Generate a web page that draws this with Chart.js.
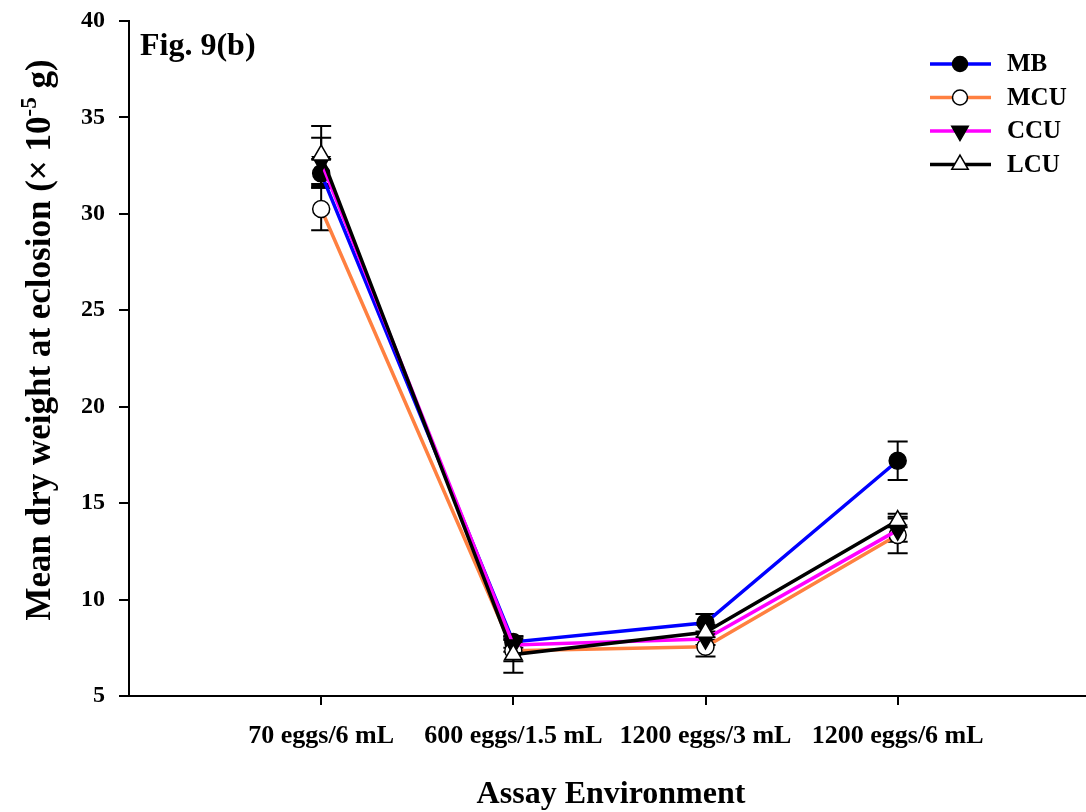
<!DOCTYPE html>
<html>
<head>
<meta charset="utf-8">
<script src="https://cdn.jsdelivr.net/npm/chart.js@4.4.0/dist/chart.umd.min.js"></script>
<style>
  html, body { margin: 0; padding: 0; background: #fff; }
  #wrap { width: 1086px; height: 812px; }
</style>
</head>
<body>
<div id="wrap"><canvas id="c" width="1086" height="812"></canvas></div>
<script>
// Assay environments (x positions 1..4)
const categories = ['70 eggs/6 mL', '600 eggs/1.5 mL', '1200 eggs/3 mL', '1200 eggs/6 mL'];

// Mean dry weight at eclosion (x 10^-5 g) and error half-widths per population
const mbValues  = [32.1, 7.8, 8.8, 17.2];
const mbErr     = [0.75, 0.3, 0.45, 1.0];
const mcuValues = [30.25, 7.35, 7.55, 13.35];
const mcuErr    = [1.1, 0.55, 0.5, 0.95];
const ccuValues = [32.7, 7.65, 7.95, 13.6];
const ccuErr    = [1.25, 0.35, 0.3, 0.6];
const lcuValues = [33.05, 7.15, 8.3, 14.1];
const lcuErr    = [1.5, 0.95, 0.4, 0.35];

const seriesNames = ['MB', 'MCU', 'CCU', 'LCU'];
const yTicks = [5, 10, 15, 20, 25, 30, 35, 40];

const SERIF = '"Liberation Serif", "Times New Roman", serif';

function points(vals) { return vals.map((v, i) => ({ x: i + 1, y: v })); }

const datasets = [
  { label: seriesNames[0], data: points(mbValues),  err: mbErr,  borderColor: '#0000FF',
    pointStyle: 'circle',   pointRadius: 8.5, pointBackgroundColor: '#000', pointRotation: 0, order: 4 },
  { label: seriesNames[1], data: points(mcuValues), err: mcuErr, borderColor: '#FF8040',
    pointStyle: 'circle',   pointRadius: 8.5, pointBackgroundColor: '#fff', pointRotation: 0, order: 3 },
  { label: seriesNames[2], data: points(ccuValues), err: ccuErr, borderColor: '#FF00FF',
    pointStyle: 'triangle', pointRadius: 10, pointBackgroundColor: '#000', pointRotation: 180, order: 2 },
  { label: seriesNames[3], data: points(lcuValues), err: lcuErr, borderColor: '#000000',
    pointStyle: 'triangle', pointRadius: 10, pointBackgroundColor: '#fff', pointRotation: 0, order: 1 }
].map(d => Object.assign({
  borderWidth: 3.5,
  pointBorderColor: '#000',
  pointBorderWidth: 1.5,
  pointHoverRadius: 8,
  tension: 0,
  showLine: true
}, d));

// Vertical error bars with caps, drawn beneath lines and markers
const errorBars = {
  id: 'errorBars',
  beforeDatasetsDraw(chart) {
    const { ctx, scales: { x, y } } = chart;
    ctx.save();
    ctx.strokeStyle = '#000';
    ctx.lineWidth = 2;
    chart.data.datasets.forEach(ds => {
      ds.data.forEach((p, i) => {
        const e = ds.err[i];
        const px = x.getPixelForValue(p.x);
        const top = y.getPixelForValue(p.y + e);
        const bot = y.getPixelForValue(p.y - e);
        ctx.beginPath();
        ctx.moveTo(px, top); ctx.lineTo(px, bot);
        ctx.moveTo(px - 10, top); ctx.lineTo(px + 10, top);
        ctx.moveTo(px - 10, bot); ctx.lineTo(px + 10, bot);
        ctx.stroke();
      });
    });
    ctx.restore();
  }
};

// Axis titles, panel label and the line+marker legend
const annotations = {
  id: 'annotations',
  afterDraw(chart) {
    const { ctx } = chart;
    ctx.save();
    ctx.fillStyle = '#000';

    // Panel label
    ctx.font = 'bold 32px ' + SERIF;
    ctx.textAlign = 'left';
    ctx.textBaseline = 'alphabetic';
    ctx.fillText('Fig. 9(b)', 140, 55);

    // X axis title
    ctx.textAlign = 'center';
    ctx.fillText('Assay Environment', 611, 803);

    // Y axis title with superscript exponent
    const main = 'bold 35px ' + SERIF;
    const sup = 'bold 23px ' + SERIF;
    const parts = [
      { t: 'Mean dry weight at eclosion (\u00D7 10', f: main, dy: 0 },
      { t: '-5', f: sup, dy: -14 },
      { t: ' g)', f: main, dy: 0 }
    ];
    let total = 0;
    parts.forEach(p => { ctx.font = p.f; p.w = ctx.measureText(p.t).width; total += p.w; });
    ctx.translate(50, 340);
    ctx.rotate(-Math.PI / 2);
    ctx.textAlign = 'left';
    let cx = -total / 2;
    parts.forEach(p => { ctx.font = p.f; ctx.fillText(p.t, cx, p.dy); cx += p.w; });
    ctx.setTransform(1, 0, 0, 1, 0, 0);

    // Legend
    const rows = [64, 97.5, 131, 164.5];
    chart.data.datasets.forEach((ds, i) => {
      const ry = rows[i];
      ctx.strokeStyle = ds.borderColor;
      ctx.lineWidth = 3.5;
      ctx.beginPath();
      ctx.moveTo(930, ry); ctx.lineTo(991, ry);
      ctx.stroke();
      ctx.fillStyle = ds.pointBackgroundColor;
      ctx.strokeStyle = '#000';
      ctx.lineWidth = 1.5;
      Chart.helpers.drawPoint(ctx, {
        pointStyle: ds.pointStyle,
        rotation: ds.pointRotation,
        radius: ds.pointStyle === 'circle' ? 7.5 : 9.5,
        borderWidth: 1.5
      }, 960, ry);
      ctx.fillStyle = '#000';
      ctx.font = 'bold 25px ' + SERIF;
      ctx.textAlign = 'left';
      ctx.textBaseline = 'middle';
      ctx.fillText(ds.label, 1007, ry + 1);
    });
    ctx.restore();
  }
};

new Chart(document.getElementById('c'), {
  type: 'line',
  data: { datasets },
  plugins: [errorBars, annotations],
  options: {
    responsive: false,
    animation: false,
    devicePixelRatio: 1,
    layout: { autoPadding: false, padding: { top: 21, right: 0, bottom: 0, left: 0 } },
    plugins: { legend: { display: false }, tooltip: { enabled: false } },
    scales: {
      x: {
        type: 'linear',
        min: 0,
        max: 4.98,
        afterBuildTicks(s) { s.ticks = categories.map((_, i) => ({ value: i + 1 })); },
        afterFit(s) { s.height = 116; s.paddingLeft = 0; s.paddingRight = 0; },
        grid: { display: true, drawOnChartArea: false, drawTicks: true, tickLength: 9, color: '#000', lineWidth: 2 },
        border: { display: true, color: '#000', width: 2 },
        ticks: {
          color: '#000',
          font: { family: SERIF, size: 26, weight: 'bold' },
          padding: 16,
          maxRotation: 0,
          autoSkip: false,
          callback: v => categories[v - 1]
        }
      },
      y: {
        min: 5,
        max: 40,
        afterBuildTicks(s) { s.ticks = yTicks.map(v => ({ value: v })); },
        afterFit(s) { s.width = 129; s.paddingTop = 0; s.paddingBottom = 0; },
        grid: { display: true, drawOnChartArea: false, drawTicks: true, tickLength: 10, color: '#000', lineWidth: 2 },
        border: { display: true, color: '#000', width: 2 },
        ticks: {
          color: '#000',
          font: { family: SERIF, size: 24, weight: 'bold' },
          padding: 14
        }
      }
    }
  }
});
</script>
</body>
</html>
